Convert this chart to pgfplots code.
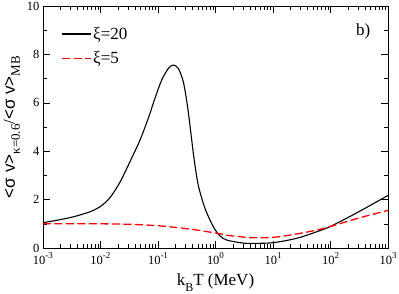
\documentclass[border=0pt]{standalone}
\usepackage{pgfplots}
\pgfplotsset{compat=1.18}
\usepackage{fontspec}
\setmainfont{Liberation Serif}
\newfontfamily\sansf{Liberation Sans}
\newcommand\sub[2]{\raisebox{-0.3em}{\fontsize{#1}{#1}\selectfont #2}}
\newcommand\tsup[1]{\raisebox{0.45em}{\fontsize{9}{9}\selectfont #1}}
\begin{document}
\begin{tikzpicture}
\begin{axis}[name=ax,
  scale only axis, width=345pt, height=242pt,
  xmode=log, xmin=1e-3, xmax=1e3, ymin=0, ymax=10,
  xtick={1e-3,1e-2,1e-1,1,1e1,1e2,1e3},
  xticklabels={10\tsup{-3},10\tsup{-2},10\tsup{-1},10\tsup{0},10\tsup{1},10\tsup{2},10\tsup{3}},
  ytick={0,2,4,6,8,10}, minor ytick={1,3,5,7,9},
  yticklabel style={/pgf/number format/assume math mode=true},
  tick align=inside, ticks=both,
  major tick length=7pt, minor tick length=4pt,
  tick style={black, line width=0.6pt},
  axis line style={line width=0.8pt},
  tick label style={font=\fontsize{12.5}{12.5}\selectfont},
  xticklabel style={yshift=-1pt},
  xlabel={k\sub{12}{B}T (MeV)},
  ylabel={{\sansf\fontsize{17}{17}\selectfont <σ v>}\sub{13}{κ=0.6}/{\sansf\fontsize{17}{17}\selectfont <σ v>}\sub{13}{MB}},
  xlabel style={font=\fontsize{17}{17}\selectfont, yshift=-3pt},
  ylabel style={font=\fontsize{17}{17}\selectfont, yshift=0pt},
  legend style={draw=none, fill=none, at={(rel axis cs:0.05,0.925)}, anchor=north west, font=\fontsize{17}{17}\selectfont, row sep=7pt, inner sep=1pt},
  legend cell align=left,
  legend image code/.code={\draw[#1] (0cm,0cm) -- (1cm,0cm);},
]
\addplot[black, line width=1.1pt, smooth] coordinates {
(0.001,1.05) (0.001778,1.15) (0.003388,1.29) (0.006607,1.50) (0.01,1.72)
(0.01462,2.08) (0.02183,2.72) (0.03258,3.57) (0.04864,4.46) (0.06776,5.36) (0.08872,6.19)
(0.1159,6.94) (0.1514,7.42) (0.1845,7.56) (0.2254,7.42) (0.2754,6.87)
(0.3236,5.91) (0.3707,4.81) (0.4227,3.71) (0.5012,2.60) (0.6561,1.64)
(0.9163,0.88) (1.197,0.50) (1.567,0.33) (2.667,0.22) (3.981,0.19) (10,0.22)
(25.70,0.40) (57.54,0.67) (97.72,0.88) (190.5,1.23) (371.5,1.60) (912.0,2.12) (1000,2.17)
};
\addlegendentry{ξ=20}
\addplot[red, line width=1.3pt, dash pattern=on 8pt off 3.5pt, smooth] coordinates {
(0.001,1.0) (0.003162,1.0) (0.01,1.0) (0.03162,0.98) (0.1,0.92)
(0.3162,0.80) (1,0.62) (1.778,0.51) (2.667,0.47) (3.981,0.43)
(10,0.44) (25.70,0.58) (57.54,0.74) (97.72,0.88) (190.5,1.09) (371.5,1.29)
(912.0,1.53) (1000,1.55)
};
\addlegendentry{ξ=5}
\node[font=\fontsize{17}{17}\selectfont] at (rel axis cs:0.928,0.893) {b)};
\end{axis}
\pgfresetboundingbox
\useasboundingbox ([shift={(-43pt,-45pt)}]ax.south west) rectangle ([shift={(11pt,6pt)}]ax.north east);
\end{tikzpicture}
\end{document}
